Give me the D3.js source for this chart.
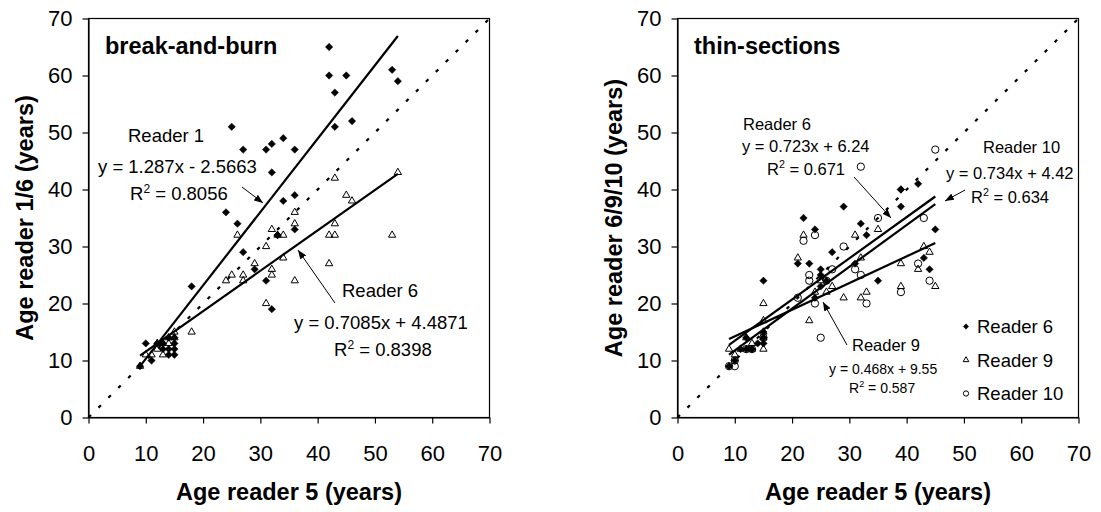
<!DOCTYPE html>
<html><head><meta charset="utf-8">
<script src="https://cdn.jsdelivr.net/npm/d3@7"></script>
<style>
body{margin:0;background:#fff}
svg text{font-family:Arial,"Liberation Sans",sans-serif;fill:#000}
</style>
</head><body>
<svg id="chart" width="1101" height="512"></svg>
<script>
// ---------- data ----------
const tickValues = [0, 10, 20, 30, 40, 50, 60, 70];
const xTitle = "Age reader 5 (years)";
const panelTitles = ["break-and-burn", "thin-sections"];
const yTitles = ["Age reader 1/6 (years)", "Age reader 6/9/10 (years)"];

// break-and-burn panel
const bbReader1 = [[42,65],[42,60],[45,60],[43,57],[53,61],[54,59],[25,51],[43,51],[46,52],[27,47],[31,47],[32,48],[34,49],[36,47],[32,43],[24,36],[26,34],[34,38],[36,39],[36,33],[33,32],[33,32],[27,29],[29,26],[31,24],[18,23],[32,19],[10,13],[9,9],[11,10],[14,11],[15,11],[12,13],[13,13],[14,14],[15,14],[15,13],[15,12],[14,12],[13,12]];
const bbReader6 = [[43,42],[54,43],[45,39],[46,38],[36,36],[36,34],[43,34],[32,33],[34,32],[42,32],[43,32],[53,32],[26,32],[33,32],[31,30],[34,28],[42,27],[29,27],[32,26],[32,25],[27,25],[25,25],[24,24],[27,24],[36,24],[31,20],[18,15],[9,9],[11,11],[13,11],[14,13],[15,15],[12,12],[10,11],[14,14],[15,14],[13,13],[12,13]];
const bbFits = [
  {slope: 1.287, intercept: -2.5663},
  {slope: 0.7085, intercept: 4.4871}
];

// thin-sections panel
const tsReader6 = [[42,41],[39,40],[39,40],[39,37],[29,37],[22,35],[32,34],[24,33],[33,32],[45,33],[27,29],[21,27],[23,27],[31,27],[43,28],[44,26],[25,26],[25,25],[26,24],[25,23],[35,24],[15,24],[24,21],[15,15],[15,14],[15,13],[12,14],[13,12],[12,12],[10,10],[9,9],[11,12],[14,13]];
const tsReader9 = [[22,32],[31,32],[35,33],[21,28],[32,28],[43,30],[44,29],[39,27],[42,26],[45,23],[39,23],[33,22],[32,21],[29,21],[27,23],[15,20],[23,17],[15,17],[26,22],[25,24],[24,22],[15,15],[13,13],[9,12],[15,12],[10,11],[12,14],[15,14],[13,12],[11,12]];
const tsReader10 = [[45,47],[32,44],[43,35],[35,35],[22,31],[24,32],[29,30],[31,26],[32,25],[42,27],[44,24],[39,22],[33,20],[27,26],[23,25],[23,24],[21,21],[24,20],[25,14],[12,12],[13,12],[10,9],[9,9],[26,24],[15,14],[10,10]];
const tsFits = [
  {slope: 0.723, intercept: 6.24},
  {slope: 0.468, intercept: 9.55},
  {slope: 0.734, intercept: 4.42}
];
const legendLabels = ["Reader 6", "Reader 9", "Reader 10"];

// ---------- drawing ----------
const svg = d3.select("#chart");
const defs = svg.append("defs");
defs.append("marker").attr("id","arrow").attr("markerUnits","userSpaceOnUse")
  .attr("viewBox","0 0 9 7").attr("refX",9).attr("refY",3.5)
  .attr("markerWidth",9).attr("markerHeight",7).attr("orient","auto")
  .append("path").attr("d","M0,0L9,3.5L0,7Z").attr("fill","#000");

const yRange = [417.5, 18.5];
const panels = [
  {x0: 88.5, x1: 489.5},
  {x0: 677.5, x1: 1078.5}
];

const symDiamond = d3.symbol(d3.symbolSquare, 27);
const symTriangle = d3.symbol(d3.symbolTriangle, 23);
const symCircle = d3.symbol(d3.symbolCircle, 42);

function drawPanel(i) {
  const p = panels[i];
  const x = d3.scaleLinear().domain([0,70]).range([p.x0, p.x1]);
  const y = d3.scaleLinear().domain([0,70]).range(yRange);
  const g = svg.append("g");

  g.append("rect").attr("x",p.x0).attr("y",yRange[1])
    .attr("width",p.x1-p.x0).attr("height",yRange[0]-yRange[1])
    .attr("fill","none").attr("stroke","#000").attr("stroke-width",1.2);

  const xa = g.append("g").attr("transform",`translate(0,${yRange[0]})`)
    .call(d3.axisBottom(x).tickValues(tickValues).tickSize(6).tickSizeOuter(0).tickPadding(22));
  const ya = g.append("g").attr("transform",`translate(${p.x0},0)`)
    .call(d3.axisLeft(y).tickValues(tickValues).tickSize(6).tickSizeOuter(0).tickPadding(10));
  [xa, ya].forEach(a => {
    a.selectAll("path,line").attr("stroke","#000").attr("stroke-width",1.2);
    a.selectAll("text").attr("font-size",22).attr("font-family","Arial, 'Liberation Sans', sans-serif").attr("fill","#000");
  });

  // 1:1 dotted line
  g.append("line").attr("x1",x(0)).attr("y1",y(0)).attr("x2",x(70)).attr("y2",y(70))
    .attr("stroke","#000").attr("stroke-width",2.2).attr("stroke-dasharray","3.5,10.5");

  // axis titles
  g.append("text").attr("x",(p.x0+p.x1)/2).attr("y",500).attr("text-anchor","middle")
    .attr("font-size",23.5).attr("font-weight","bold").text(xTitle);
  g.append("text").attr("transform",`translate(${p.x0-56},${(yRange[0]+yRange[1])/2}) rotate(-90)`)
    .attr("text-anchor","middle").attr("font-size",23.5).attr("font-weight","bold").text(yTitles[i]);
  g.append("text").attr("x",p.x0+16.5).attr("y",54).attr("font-size",23.5).attr("font-weight","bold").text(panelTitles[i]);
  return {g, x, y};
}

function drawPoints(P, data, sym, filled) {
  P.g.append("g").selectAll("path").data(data).join("path")
    .attr("d", sym)
    .attr("transform", d => `translate(${P.x(d[0])},${P.y(d[1])})` + (sym === symDiamond ? " rotate(45)" : ""))
    .attr("fill", filled ? "#000" : "none")
    .attr("stroke", "#000").attr("stroke-width", filled ? 0.5 : 1);
}
function drawFit(P, data, fit) {
  const [a, b] = d3.extent(data, d => d[0]);
  P.g.append("line")
    .attr("x1",P.x(a)).attr("y1",P.y(fit.slope*a+fit.intercept))
    .attr("x2",P.x(b)).attr("y2",P.y(fit.slope*b+fit.intercept))
    .attr("stroke","#000").attr("stroke-width",2.2);
}
function label(g, x, y, size, txt) {
  g.append("text").attr("x",x).attr("y",y).attr("font-size",size).text(txt);
}
function rsq(g, x, y, size, val) {
  const t = g.append("text").attr("x",x).attr("y",y).attr("font-size",size);
  t.append("tspan").text("R");
  t.append("tspan").attr("dy",-size*0.4).attr("font-size",size*0.65).text("2");
  t.append("tspan").attr("dy",size*0.4).text(" = " + val);
}
function arrow(g, x1, y1, x2, y2) {
  g.append("line").attr("x1",x1).attr("y1",y1).attr("x2",x2).attr("y2",y2)
    .attr("stroke","#000").attr("stroke-width",1).attr("marker-end","url(#arrow)");
}

// left panel
const L = drawPanel(0);
drawPoints(L, bbReader1, symDiamond, true);
drawPoints(L, bbReader6, symTriangle, false);
drawFit(L, bbReader1, bbFits[0]);
drawFit(L, bbReader6, bbFits[1]);
label(L.g, 128, 142, 18.5, "Reader 1");
label(L.g, 98, 173, 18.5, `y = ${bbFits[0].slope}x - ${Math.abs(bbFits[0].intercept)}`);
rsq(L.g, 130, 200, 18.5, "0.8056");
arrow(L.g, 242, 187, 263, 203);
label(L.g, 342, 297, 18.5, "Reader 6");
label(L.g, 294, 329, 18.5, `y = ${bbFits[1].slope}x + ${bbFits[1].intercept}`);
rsq(L.g, 334, 356, 18.5, "0.8398");
arrow(L.g, 335, 303, 298, 250);

// right panel
const R = drawPanel(1);
drawPoints(R, tsReader6, symDiamond, true);
drawPoints(R, tsReader9, symTriangle, false);
drawPoints(R, tsReader10, symCircle, false);
drawFit(R, tsReader6, tsFits[0]);
drawFit(R, tsReader9, tsFits[1]);
drawFit(R, tsReader10, tsFits[2]);
label(R.g, 743, 130, 16.5, "Reader 6");
label(R.g, 742, 152, 16.5, `y = ${tsFits[0].slope}x + ${tsFits[0].intercept}`);
rsq(R.g, 767, 175, 16.5, "0.671");
arrow(R.g, 854, 177, 891, 218);
label(R.g, 983, 153, 16.5, "Reader 10");
label(R.g, 946, 179, 16.5, `y = ${tsFits[2].slope}x + ${tsFits[2].intercept}`);
rsq(R.g, 971, 203, 16.5, "0.634");
arrow(R.g, 965, 190, 945, 201);
label(R.g, 852, 351, 16.5, "Reader 9");
label(R.g, 829, 374, 14, `y = ${tsFits[1].slope}x + ${tsFits[1].intercept}`);
rsq(R.g, 849, 393, 14, "0.587");
arrow(R.g, 847, 345, 823, 302);

// legend
const legG = R.g.append("g");
legendLabels.forEach((t, k) => {
  const by = 333 + k*33.5;
  const shape = [d3.symbolSquare, d3.symbolTriangle, d3.symbolCircle][k];
  const area = [14, 14, 22][k];
  legG.append("path").attr("d", d3.symbol(shape, area)())
    .attr("transform", `translate(966,${by-6.5})` + (k===0?" rotate(45)":""))
    .attr("fill", k===0 ? "#000" : "none").attr("stroke","#000").attr("stroke-width", k===0?0.5:1);
  legG.append("text").attr("x",977).attr("y",by).attr("font-size",18.5).text(t);
});
</script>
</body></html>
